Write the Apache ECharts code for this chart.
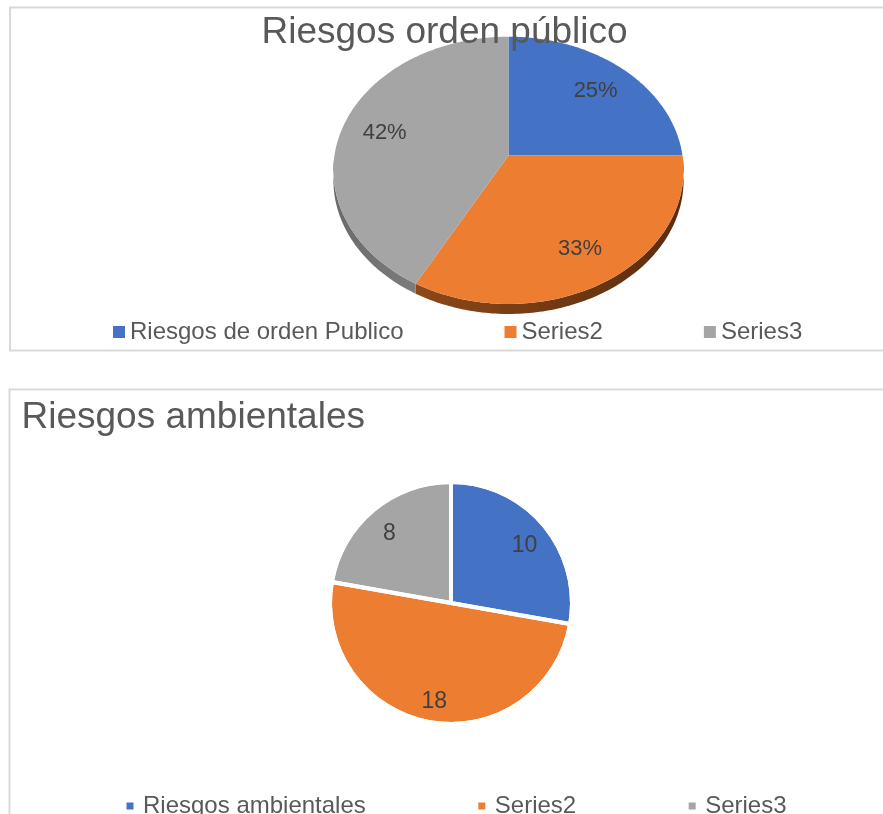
<!DOCTYPE html>
<html>
<head>
<meta charset="utf-8">
<script src="https://cdn.jsdelivr.net/npm/echarts@6/dist/echarts.min.js"></script>
<style>
  html, body { margin: 0; padding: 0; background: #fff; overflow: hidden; }
  #top { position: absolute; left: 0; top: 0; width: 883px; height: 370px; }
  #bottom { position: absolute; left: 0; top: 370px; width: 883px; height: 444px; }
</style>
</head>
<body>
<div id="top"></div>
<div id="bottom"></div>
<script>
// datos
const topCategories = ['Riesgos de orden Publico', 'Series2', 'Series3']
const topValues = [25, 33, 42]
const bottomCategories = ['Riesgos ambientales', 'Series2', 'Series3']
const bottomValues = [10, 18, 8]

const colors = ['#4472C4', '#ED7D31', '#A5A5A5']
const sideColors = [
  '#2f528f',
  { type: 'linear', x: 0, y: 0, x2: 1, y2: 0, colorStops: [{ offset: 0, color: '#8c4818' }, { offset: 1, color: '#5a2c0e' }] },
  { type: 'linear', x: 0, y: 0, x2: 1, y2: 0, colorStops: [{ offset: 0, color: '#6a6a6a' }, { offset: 1, color: '#7c7c7c' }] }
]
const FONT = '"Liberation Sans", Arial, sans-serif'

// pastel 3D: circulo inclinado visto en perspectiva
const PIE = { cx: 508.5, cy: 155.5, a: 174, b: 132, k: 0.111, depth: 10 }
const topTotal = topValues.reduce((a, b) => a + b, 0)
const topStarts = topValues.map((v, i) => topValues.slice(0, i).reduce((a, b) => a + b, 0))

function project(angle, f) {
  const u = f * Math.sin(angle)
  const v = f * Math.cos(angle)
  const d = 1 + PIE.k * v
  return [PIE.cx + PIE.a * u / d, PIE.cy - PIE.b * v / d]
}

function arcPoints(a0, a1, dy) {
  const pts = []
  const n = Math.max(2, Math.ceil((a1 - a0) / (Math.PI / 180)))
  for (let k = 0; k <= n; k++) {
    const p = project(a0 + (a1 - a0) * k / n, 1)
    pts.push([p[0], p[1] + dy])
  }
  return pts
}

function renderSide(params, api) {
  const a0 = Math.max(api.value(0) / topTotal * 2 * Math.PI, Math.PI / 2)
  const a1 = Math.min((api.value(0) + api.value(1)) / topTotal * 2 * Math.PI, 1.5 * Math.PI)
  if (a1 <= a0) {
    return null
  }
  const upper = arcPoints(a0, a1, 0)
  const lower = arcPoints(a0, a1, PIE.depth).reverse()
  return {
    type: 'polygon',
    shape: { points: upper.concat(lower) },
    style: { fill: sideColors[api.value(2)] }
  }
}

function renderFace(params, api) {
  const a0 = api.value(0) / topTotal * 2 * Math.PI
  const a1 = (api.value(0) + api.value(1)) / topTotal * 2 * Math.PI
  const pts = [[PIE.cx, PIE.cy]].concat(arcPoints(a0, a1, 0))
  const mid = project((a0 + a1) / 2, 0.75)
  return {
    type: 'group',
    children: [
      { type: 'polygon', shape: { points: pts }, style: { fill: api.visual('color') } },
      {
        type: 'text',
        x: mid[0],
        y: mid[1] + 2,
        style: {
          text: Math.round(api.value(1) / topTotal * 100) + '%',
          fill: '#404040',
          font: '22px ' + FONT,
          align: 'center',
          verticalAlign: 'middle'
        }
      }
    ]
  }
}

const topChart = echarts.init(document.getElementById('top'))
topChart.setOption({
  animation: false,
  textStyle: { fontFamily: FONT },
  title: {
    text: 'Riesgos orden público',
    left: 261.5,
    top: 14,
    padding: 0,
    textStyle: { fontSize: 37, fontWeight: 'normal', color: '#595959', fontFamily: FONT }
  },
  legend: {
    data: topCategories,
    left: 113,
    top: 320,
    padding: 0,
    icon: 'rect',
    itemWidth: 12,
    itemHeight: 12,
    itemGap: 101,
    selectedMode: false,
    textStyle: { fontSize: 24, color: '#595959', fontFamily: FONT }
  },
  graphic: [{
    type: 'rect',
    silent: true,
    shape: { x: 10, y: 7.5, width: 900, height: 343 },
    style: { fill: 'none', stroke: '#d9d9d9', lineWidth: 2 }
  }],
  series: [{
    type: 'custom',
    coordinateSystem: 'none',
    z: 1,
    silent: true,
    renderItem: renderSide,
    data: topValues.map((v, i) => [topStarts[i], v, i])
  }].concat(topCategories.map((name, i) => ({
    type: 'custom',
    coordinateSystem: 'none',
    name: name,
    z: 2,
    silent: true,
    itemStyle: { color: colors[i] },
    renderItem: renderFace,
    data: [[topStarts[i], topValues[i]]]
  })))
})

const bottomData = bottomCategories.map((name, i) => ({ name: name, value: bottomValues[i] }))
const bottomChart = echarts.init(document.getElementById('bottom'))
bottomChart.setOption({
  animation: false,
  textStyle: { fontFamily: FONT },
  title: {
    text: 'Riesgos ambientales',
    left: 21.5,
    top: 29,
    padding: 0,
    textStyle: { fontSize: 37, fontWeight: 'normal', color: '#595959', fontFamily: FONT }
  },
  legend: {
    data: bottomCategories,
    left: 126.5,
    top: 424,
    padding: 0,
    icon: 'path://M0,0H7V7H0Z',
    itemWidth: 16,
    itemHeight: 7,
    itemGap: 112.5,
    selectedMode: false,
    textStyle: { fontSize: 24, color: '#595959', fontFamily: FONT }
  },
  graphic: [{
    type: 'rect',
    silent: true,
    shape: { x: 9.5, y: 19.5, width: 900, height: 500 },
    style: { fill: 'none', stroke: '#d9d9d9', lineWidth: 2 }
  }],
  series: [
    {
      type: 'pie',
      center: [451, 233],
      radius: 119,
      startAngle: 90,
      clockwise: true,
      silent: true,
      label: { show: false },
      labelLine: { show: false },
      data: bottomData.map((d, i) => ({ name: d.name, value: d.value, itemStyle: { color: colors[i] } }))
    },
    {
      // separadores blancos entre sectores
      type: 'pie',
      center: [451, 233],
      radius: 121,
      startAngle: 90,
      clockwise: true,
      silent: true,
      itemStyle: { color: 'rgba(0,0,0,0)', borderColor: '#fff', borderWidth: 4 },
      label: { show: false },
      labelLine: { show: false },
      data: bottomData
    },
    {
      // solo etiquetas, un poco mas afuera que el centro del sector
      type: 'pie',
      center: [451, 233],
      radius: [65, 121],
      startAngle: 90,
      clockwise: true,
      silent: true,
      itemStyle: { color: 'rgba(0,0,0,0)', borderWidth: 0 },
      label: { show: true, position: 'inside', formatter: '{c}', fontSize: 23, color: '#404040', fontFamily: FONT },
      labelLine: { show: false },
      labelLayout: { dy: 4 },
      data: bottomData
    }
  ]
})
</script>
</body>
</html>
